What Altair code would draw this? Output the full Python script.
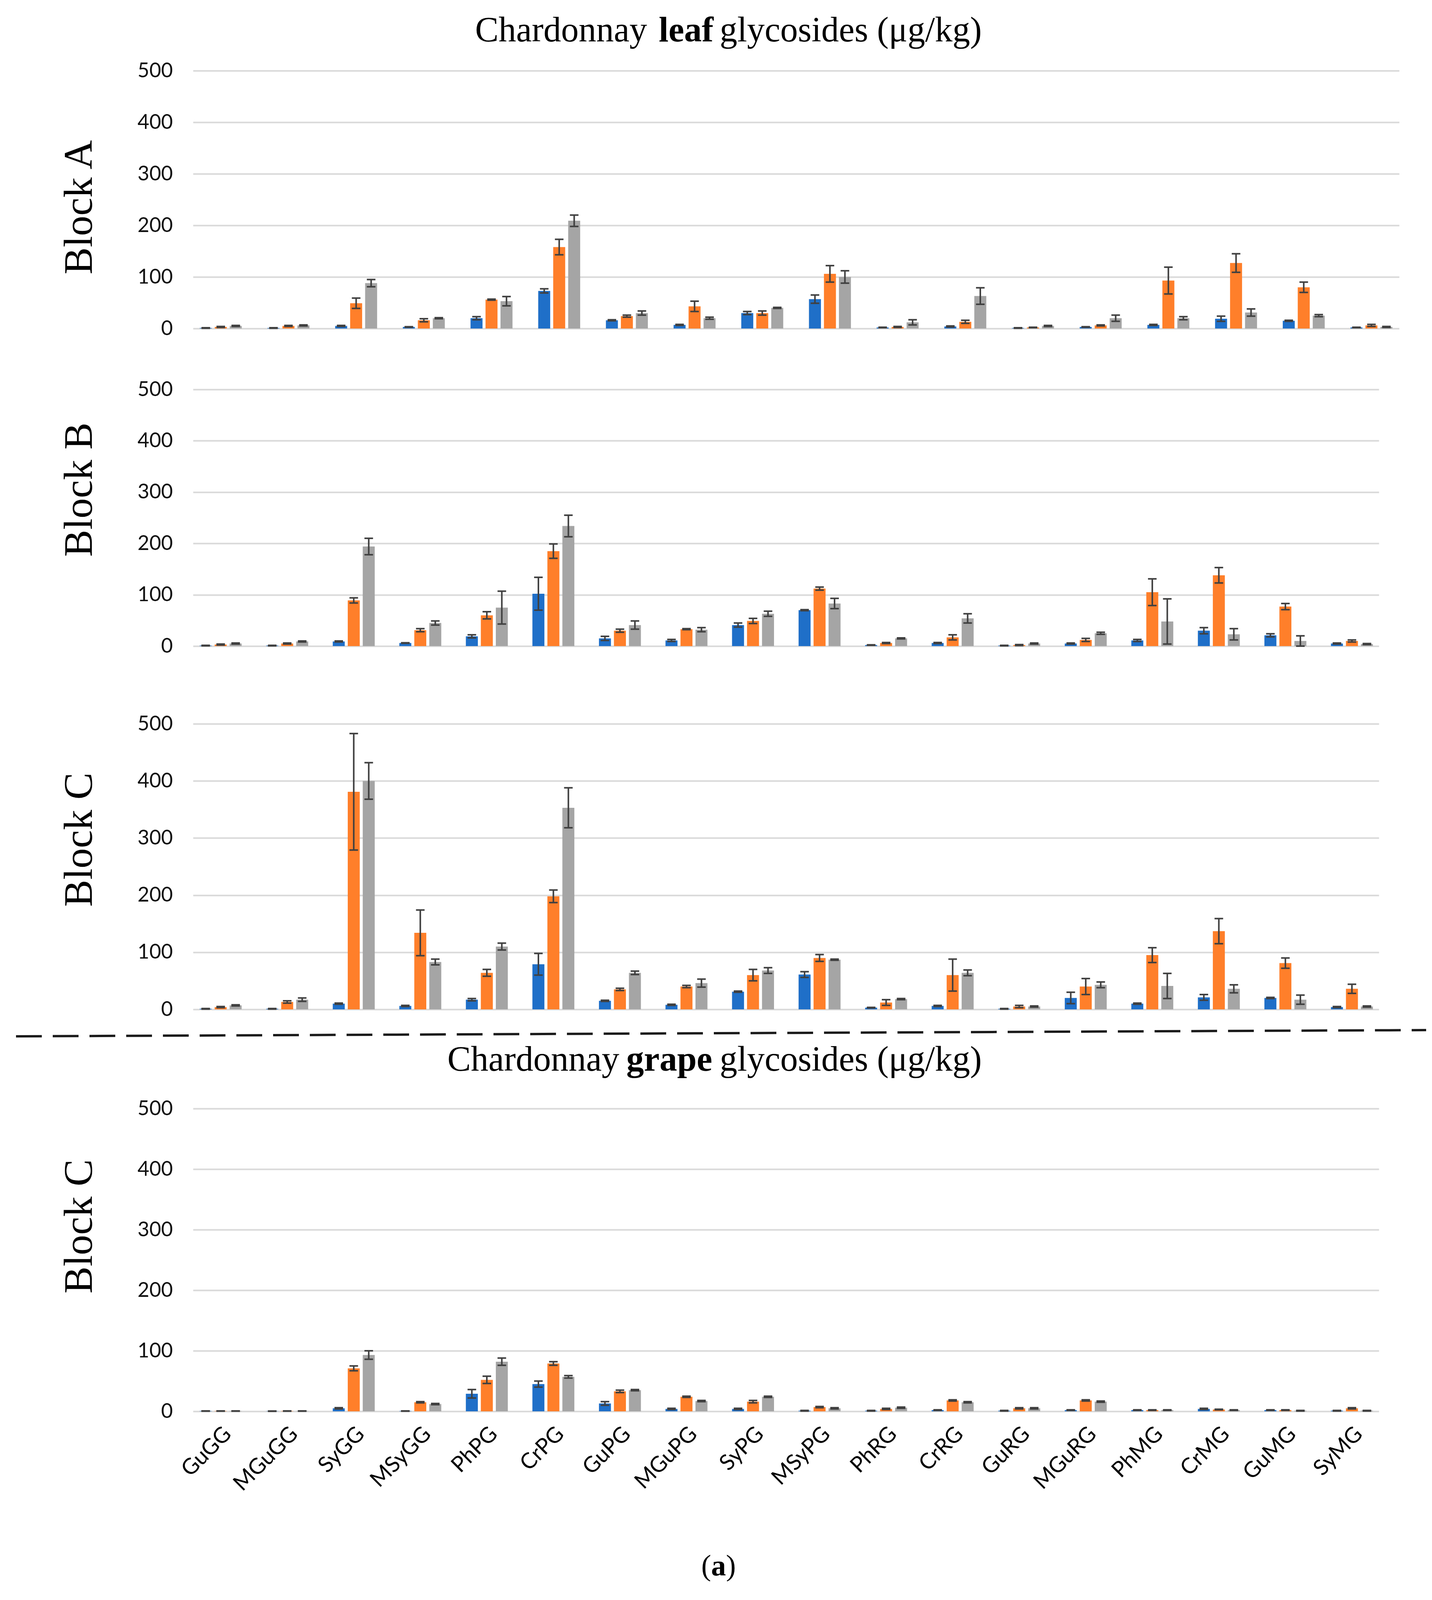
import altair as alt
import pandas as pd

compounds = ["GuGG", "MGuGG", "SyGG", "MSyGG", "PhPG", "CrPG", "GuPG", "MGuPG", "SyPG",
             "MSyPG", "PhRG", "CrRG", "GuRG", "MGuRG", "PhMG", "CrMG", "GuMG", "SyMG"]
series = ["S1", "S2", "S3"]
colors = ["#1F6FC8", "#FF7F2A", "#A5A5A5"]
y_ticks = [0, 100, 200, 300, 400, 500]

# Block A, leaf
a_blue = [1, 1, 5, 3, 20, 73, 16, 7, 30, 57, 2, 4, 1, 3, 7, 19, 15, 2]
a_blue_err = [0.5, 0.5, 1, 0.5, 3, 4, 1, 1, 3, 8, 0.5, 1, 0.5, 0.5, 1, 5, 1, 0.5]
a_orange = [3, 5, 49, 16, 56, 158, 24, 43, 30, 106, 3, 13, 2, 6, 93, 127, 80, 6]
a_orange_err = [1, 1, 10, 3, 1, 15, 2, 10, 4, 16, 1, 3, 0.5, 1, 26, 18, 10, 2]
a_grey = [5, 6, 88, 20, 53, 209, 30, 20, 40, 100, 12, 63, 5, 20, 20, 31, 25, 3]
a_grey_err = [1, 1, 7, 1, 9, 11, 4, 2, 1, 12, 5, 16, 1, 6, 3, 7, 2, 1]

# Block B, leaf
b_blue = [1, 1, 9, 6, 19, 102, 15, 11, 41, 70, 2, 6, 1, 5, 11, 30, 21, 5]
b_blue_err = [0.5, 0.5, 1, 0.5, 3, 32, 4, 2, 4, 1, 0.5, 1, 0.5, 1, 2, 6, 3, 1]
b_orange = [3, 5, 89, 31, 60, 185, 30, 33, 49, 112, 6, 17, 2, 12, 105, 138, 77, 10]
b_orange_err = [1, 1, 5, 3, 7, 14, 3, 1, 5, 3, 1, 5, 1, 3, 26, 15, 6, 2]
b_grey = [5, 9, 194, 45, 75, 234, 41, 32, 63, 83, 15, 54, 5, 25, 48, 23, 10, 4]
b_grey_err = [1, 1, 16, 4, 32, 21, 8, 4, 5, 10, 1, 9, 1, 2, 44, 11, 10, 1]

# Block C, leaf
c_blue = [1, 1, 10, 6, 17, 79, 15, 8, 31, 61, 3, 6, 1, 20, 10, 21, 20, 4]
c_blue_err = [0.5, 0.5, 1, 1, 2, 19, 1, 1, 1, 5, 0.5, 1, 0.5, 10, 1, 5, 1, 1]
c_orange = [4, 13, 381, 134, 64, 198, 35, 40, 60, 90, 12, 60, 5, 40, 95, 137, 81, 36]
c_orange_err = [1, 2, 102, 40, 6, 11, 2, 2, 10, 6, 5, 28, 2, 14, 13, 22, 9, 8]
c_grey = [7, 17, 400, 83, 110, 353, 64, 46, 68, 87, 18, 64, 5, 43, 41, 36, 17, 5]
c_grey_err = [1, 3, 32, 5, 6, 35, 3, 7, 5, 1, 1, 5, 1, 5, 22, 7, 8, 1]

# Block C, grape
g_blue = [0.5, 0.3, 5, 0.5, 29, 45, 13, 4, 4, 1, 1, 2, 1, 2, 2, 4, 2, 1]
g_blue_err = [0.2, 0.2, 1, 0.2, 7, 5, 3, 1, 1, 0.5, 0.5, 0.5, 0.5, 0.5, 0.5, 1, 0.5, 0.5]
g_orange = [0.5, 0.5, 71, 15, 52, 79, 33, 24, 16, 7, 4, 18, 5, 18, 2, 3, 2, 5]
g_orange_err = [0.2, 0.2, 4, 1, 6, 3, 2, 1, 2, 1, 1, 1, 1, 1, 0.5, 0.5, 0.5, 1]
g_grey = [0.5, 0.5, 93, 12, 82, 57, 35, 17, 24, 5, 6, 15, 5, 16, 2, 2, 1, 1]
g_grey_err = [0.2, 0.2, 7, 1, 6, 2, 1, 1, 1, 1, 1, 1, 1, 1, 0.5, 0.5, 0.5, 0.5]

SERIF = "Liberation Serif"
SANS = "Lato"
ERR_COLOR = "#404040"
VS = 0.78  # vertical squeeze so the whole figure fits in the captured page
one_row = pd.DataFrame({"k": [0]})


def v(px):
    return round(px * VS)


def build_frame(vals, errs):
    rows = []
    for s, v_list, e_list in zip(series, vals, errs):
        for c, val, e in zip(compounds, v_list, e_list):
            rows.append({"cmpd": c, "series": s, "value": val,
                         "lo": max(val - e, 0), "hi": val + e})
    return pd.DataFrame(rows)


def panel(vals, errs, block, title_y, show_labels=False):
    frame = build_frame(vals, errs)
    x_axis = alt.Axis(labels=show_labels, ticks=False, domain=False, grid=False, title=None,
                      labelAngle=-45, labelFont=SANS, labelFontSize=56, labelColor="#000",
                      labelPadding=30, labelLimit=0)
    y_axis = alt.Axis(values=y_ticks, grid=True, gridColor="#D9D9D9", gridWidth=4,
                      domain=False, ticks=False, labelFont=SANS, labelFontSize=52,
                      labelColor="#111", labelPadding=52, titleFont=SERIF,
                      titleFontSize=104, titleFontWeight="normal", titleColor="#000",
                      titlePadding=95, titleY=title_y)
    x = alt.X("cmpd:N", sort=compounds, axis=x_axis,
              scale=alt.Scale(paddingInner=0.38, paddingOuter=0.1))
    xo = alt.XOffset("series:N", sort=series, scale=alt.Scale(paddingInner=0.2))
    y_scale = alt.Scale(domain=[0, 500])
    base = alt.Chart(frame)
    bars = base.mark_bar().encode(
        x=x, xOffset=xo,
        y=alt.Y("value:Q", scale=y_scale, axis=y_axis, title=block),
        color=alt.Color("series:N", scale=alt.Scale(domain=series, range=colors), legend=None),
    )
    err = base.mark_rule(color=ERR_COLOR, strokeWidth=4).encode(
        x=x, xOffset=xo,
        y=alt.Y("lo:Q", scale=y_scale, axis=y_axis, title=block),
        y2="hi:Q",
    )
    cap = dict(shape="M-1,0L1,0", size=484, color=ERR_COLOR, strokeWidth=4,
               filled=False, opacity=1)
    cap_hi = base.mark_point(**cap).encode(
        x=x, xOffset=xo, y=alt.Y("hi:Q", scale=y_scale, axis=y_axis, title=block))
    cap_lo = base.mark_point(**cap).encode(
        x=x, xOffset=xo, y=alt.Y("lo:Q", scale=y_scale, axis=y_axis, title=block))
    return [bars, err, cap_hi, cap_lo]


def heading(plain1, bold, plain2, x_end1, x_bold, x_start2, y):
    t = alt.Chart(one_row)
    kw = dict(font=SERIF, fontSize=90, baseline="alphabetic", color="#000")
    return [
        t.mark_text(text=plain1, align="right", **kw).encode(x=alt.value(x_end1), y=alt.value(y)),
        t.mark_text(text=bold, align="right", fontWeight="bold", **kw).encode(
            x=alt.value(x_bold), y=alt.value(y)),
        t.mark_text(text=plain2, align="left", **kw).encode(x=alt.value(x_start2), y=alt.value(y)),
    ]


def spacer(h):
    return alt.Chart(one_row).mark_point(opacity=0, size=1).encode(
        x=alt.value(0), y=alt.value(0)).properties(width=10, height=h)


# panel sizes
h_a, h_b, h_c, h_g = v(846), v(842), v(937), v(994)
w_a, w_rest = 3087, 3035

# Panel A with leaf title and an invisible anchor fixing the page origin
la = panel([a_blue, a_orange, a_grey], [a_blue_err, a_orange_err, a_grey_err],
           "Block A", v(448))
anchor = alt.Chart(one_row).mark_point(opacity=0, size=1).encode(
    x=alt.value(-485), y=alt.value(-(180 - 8)))
la += heading("Chardonnay", "leaf", "glycosides (\u03bcg/kg)", 1162, 1332, 1348, -75)
chart_a = alt.layer(*la, anchor).properties(width=w_a, height=h_a)

lb = panel([b_blue, b_orange, b_grey], [b_blue_err, b_orange_err, b_grey_err],
           "Block B", v(328))
chart_b = alt.layer(*lb).properties(width=w_rest, height=h_b)

lc = panel([c_blue, c_orange, c_grey], [c_blue_err, c_orange_err, c_grey_err],
           "Block C", v(379))
dash = alt.Chart(one_row).mark_rule(color="#1a1a1a", strokeWidth=6, strokeDash=[66, 28]).encode(
    x=alt.value(-453), x2=alt.value(3156), y=alt.value(h_c + v(88)), y2=alt.value(h_c + v(68)))
chart_c = alt.layer(*lc, dash).properties(width=w_rest, height=h_c)

lg = panel([g_blue, g_orange, g_grey], [g_blue_err, g_orange_err, g_grey_err],
           "Block C", v(386), show_labels=True)
lg += heading("Chardonnay", "grape", "glycosides (\u03bcg/kg)", 1091, 1329, 1348, -97)
tag = alt.Chart(one_row)
tag_kw = dict(font=SERIF, fontSize=76, baseline="alphabetic", color="#000")
tag_y = h_g + 420
lg += [
    tag.mark_text(text="(", align="right", **tag_kw).encode(x=alt.value(1326), y=alt.value(tag_y)),
    tag.mark_text(text="a", align="center", fontWeight="bold", **tag_kw).encode(
        x=alt.value(1345), y=alt.value(tag_y)),
    tag.mark_text(text=")", align="left", **tag_kw).encode(x=alt.value(1364), y=alt.value(tag_y)),
]
chart_g = alt.layer(*lg).properties(width=w_rest, height=h_g)

chart = alt.vconcat(
    chart_a, spacer(v(200)), chart_b, spacer(v(255)), chart_c, spacer(v(326)), chart_g,
    spacing=0, bounds="flush",
).properties(padding=0, background="white").configure_view(strokeWidth=0, stroke="transparent")

chart.save("out.html", embed_options={"renderer": "svg", "actions": False})
